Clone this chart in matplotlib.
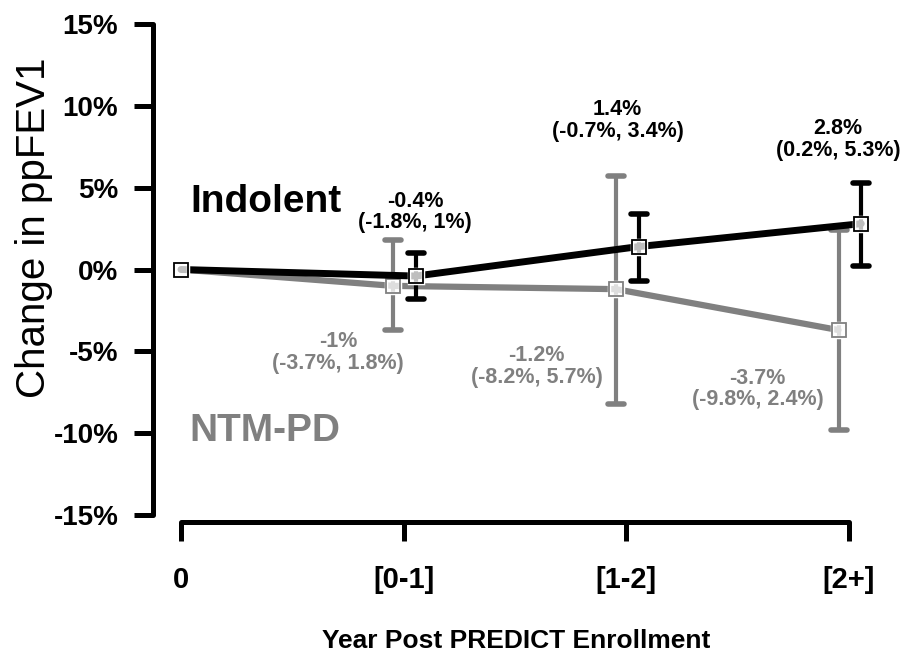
import matplotlib
matplotlib.use("Agg")
import matplotlib.pyplot as plt
from matplotlib.markers import MarkerStyle

plt.rcParams['font.family'] = ['Liberation Sans', 'DejaVu Sans']

categories = ["0", "[0-1]", "[1-2]", "[2+]"]
indolent_mean = [0.0, -0.4, 1.4, 2.8]
indolent_low = [0.0, -1.8, -0.7, 0.2]
indolent_high = [0.0, 1.0, 3.4, 5.3]
ntm_mean = [0.0, -1.0, -1.2, -3.7]
ntm_low = [0.0, -3.7, -8.2, -9.8]
ntm_high = [0.0, 1.8, 5.7, 2.4]
yticks = [-15, -10, -5, 0, 5, 10, 15]

BLACK = "#000000"
GRAY = "#808080"

fig = plt.figure(figsize=(9.22, 6.56), dpi=100)
ax = fig.add_axes([153/922, (656-515)/656, 747/922, 491/656])
ax.set_xlim(-0.1256, 3.229)
ax.set_ylim(-15, 15)

x = list(range(len(categories)))
off_g, off_b = -0.047, 0.055
xg = [xi + (off_g if i > 0 else 0) for i, xi in enumerate(x)]
xb = [xi + (off_b if i > 0 else 0) for i, xi in enumerate(x)]

def draw(xs, m, lo, hi, color, lw, z):
    ax.plot(xs, m, color=color, lw=lw, zorder=z, solid_capstyle='round')
    err = [[mm - l for mm, l in zip(m[1:], lo[1:])], [h - mm for mm, h in zip(m[1:], hi[1:])]]
    _, caps, bars = ax.errorbar(xs[1:], m[1:], yerr=err, fmt='none', ecolor=color,
                                elinewidth=3, capsize=6, capthick=4, zorder=z + 0.1)
    for c in caps:
        c.set_marker(MarkerStyle('_', capstyle='round'))
    ax.plot(xs, m, linestyle='none', marker='s', markersize=10, mfc=(1, 1, 1, 0.75),
            mec='white', mew=2.5, zorder=z + 0.2)
    ax.plot(xs, m, linestyle='none', marker='s', markersize=10, mfc='none',
            mec=color, mew=1.3, zorder=z + 0.3)

draw(xg, ntm_mean, ntm_low, ntm_high, GRAY, 4.5, 2)
draw(xb, indolent_mean, indolent_low, indolent_high, BLACK, 5, 3)

def fmt(v):
    return f"{v:g}%"

b_offsets = [(-1, 64), (-21, 126), (-23, 84)]
g_offsets = [(-55, -67), (-79, -77), (-81, -59)]
for i in range(1, 4):
    ax.annotate(f"{fmt(indolent_mean[i])}\n({fmt(indolent_low[i])}, {fmt(indolent_high[i])})",
                xy=(xb[i], indolent_mean[i]), xytext=b_offsets[i-1], textcoords='offset pixels',
                ha='center', va='center', fontsize=15.5, fontweight='bold', color=BLACK,
                linespacing=1.05, zorder=5)
    ax.annotate(f"{fmt(ntm_mean[i])}\n({fmt(ntm_low[i])}, {fmt(ntm_high[i])})",
                xy=(xg[i], ntm_mean[i]), xytext=g_offsets[i-1], textcoords='offset pixels',
                ha='center', va='center', fontsize=15.5, fontweight='bold', color=GRAY,
                linespacing=1.05, zorder=5)

ax.text(0.382, 4.15, "Indolent", ha='center', va='center', fontsize=28, fontweight='bold', color=BLACK)
ax.text(0.378, -9.84, "NTM-PD", ha='center', va='center', fontsize=28, fontweight='bold', color=GRAY)

for s in ['top', 'right']:
    ax.spines[s].set_visible(False)
ax.spines['left'].set_linewidth(3.6)
ax.spines['bottom'].set_linewidth(3.6)
ax.spines['left'].set_bounds(-15, 15)
ax.spines['bottom'].set_bounds(0, 3)
ax.spines['bottom'].set_position(('outward', 5))
ax.spines['left'].set_capstyle('round')
ax.spines['bottom'].set_capstyle('round')

ax.set_yticks(yticks)
ax.set_yticklabels([f"{t}%" for t in yticks], fontsize=20, fontweight='bold')
ax.set_xticks(x)
ax.set_xticklabels(categories, fontsize=21, fontweight='bold')
ax.tick_params(axis='y', length=14, width=3.6, pad=11)
ax.tick_params(axis='x', length=14, width=3.6, pad=18)

fig.text(34/922, (656-228)/656, "Change in ppFEV1", rotation=90, ha='center', va='center', fontsize=29)
fig.text(516/922, (656-641)/656, "Year Post PREDICT Enrollment", ha='center', va='center',
         fontsize=19, fontweight='bold')

fig.savefig("out.png", dpi=100)
